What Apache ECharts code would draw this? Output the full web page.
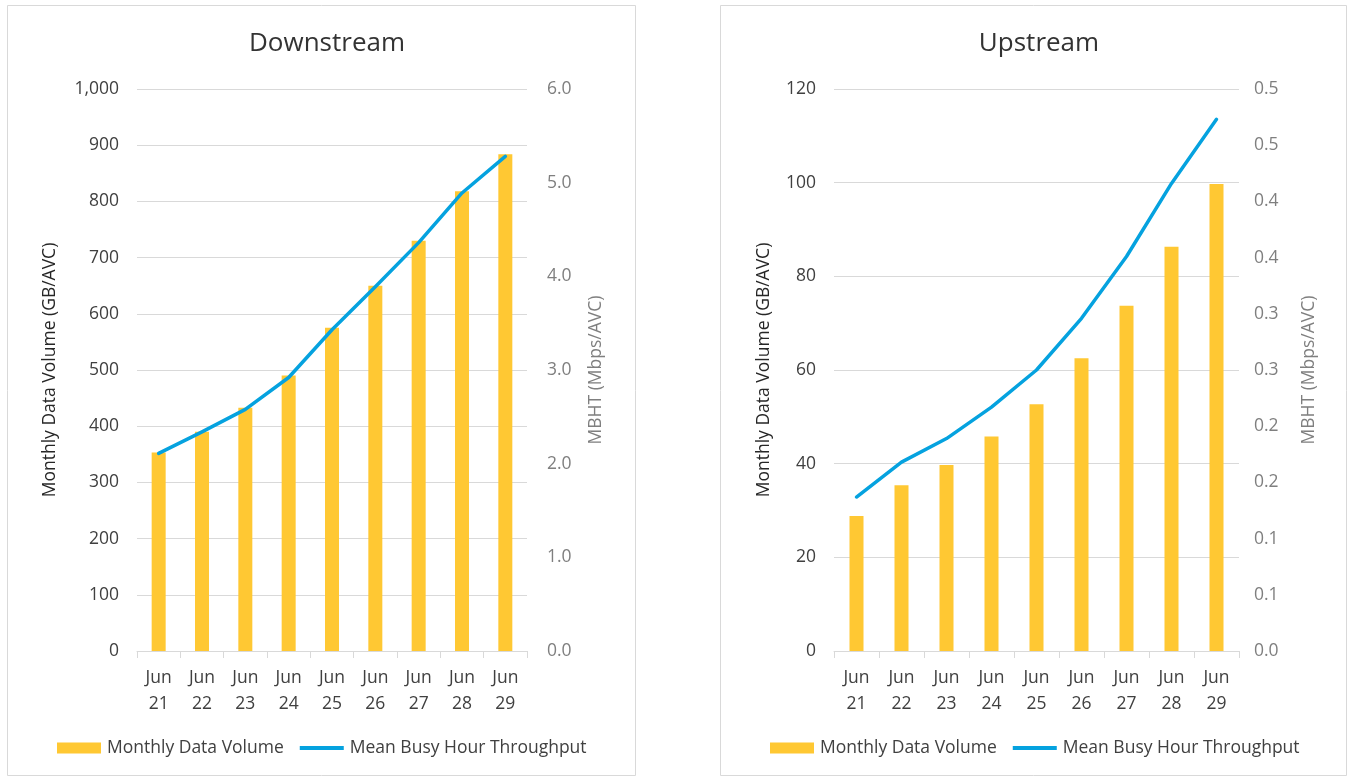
<!DOCTYPE html>
<html>
<head>
<meta charset="utf-8">
<title>Downstream / Upstream</title>
<script src="https://cdn.jsdelivr.net/npm/echarts@6/dist/echarts.min.js"></script>
<style>
  html, body { margin: 0; padding: 0; background: #ffffff; }
  #chart { width: 1348px; height: 779px; }
</style>
</head>
<body>
<div id="chart"></div>
<script>
// Months shown on both panels
const categories = ['Jun 21', 'Jun 22', 'Jun 23', 'Jun 24', 'Jun 25', 'Jun 26', 'Jun 27', 'Jun 28', 'Jun 29'];

// Downstream: monthly data volume (GB/AVC) and mean busy hour throughput (Mbps/AVC)
const downVolume = [353, 390, 433, 490, 575, 650, 730, 818, 884];
const downMbht = [2.11, 2.34, 2.58, 2.92, 3.43, 3.89, 4.36, 4.89, 5.28];

// Upstream: monthly data volume (GB/AVC) and mean busy hour throughput (Mbps/AVC)
const upVolume = [28.8, 35.4, 39.7, 45.8, 52.7, 62.5, 73.7, 86.3, 99.7];
const upMbht = [0.137, 0.168, 0.189, 0.217, 0.250, 0.296, 0.351, 0.416, 0.473];

const titles = ['Downstream', 'Upstream'];
const seriesNames = ['Monthly Data Volume', 'Mean Busy Hour Throughput'];
const leftAxisName = 'Monthly Data Volume (GB/AVC)';
const rightAxisName = 'MBHT (Mbps/AVC)';

const FONT = 'Open Sans';
const BAR_COLOR = '#FFC833';
const LINE_COLOR = '#05A2DF';
const GRID_COLOR = '#d9d9d9';

// legend key for the line: a 4px stroke centred in the 44x11 key box
const LINE_KEY = 'path://M0,0L0.01,0M0,3.5L44,3.5L44,7.5L0,7.5ZM0,11L0.01,11';

// one decimal, rounding halves upward
function oneDecimal(v) {
  return (Math.floor(v * 10 + 0.5 + 1e-6) / 10).toFixed(1);
}
function thousands(v) {
  return String(Math.round(v)).replace(/\B(?=(\d{3})+(?!\d))/g, ',');
}

const grids = [
  { left: 137, top: 89, width: 390, height: 562 },
  { left: 834, top: 89, width: 405, height: 562 }
];

function xAxisFor(i) {
  return {
    type: 'category',
    gridIndex: i,
    data: categories,
    axisLine: { lineStyle: { color: GRID_COLOR, width: 1 } },
    axisTick: { show: true, length: 7, lineStyle: { color: GRID_COLOR } },
    axisLabel: {
      color: '#404040', fontFamily: FONT, fontSize: 17.5, lineHeight: 26, margin: 14,
      formatter: v => v.replace(' ', '\n')
    }
  };
}

function leftY(i, max, interval, gap) {
  return {
    type: 'value', gridIndex: i, min: 0, max: max, interval: interval, position: 'left',
    name: leftAxisName, nameLocation: 'middle', nameRotate: 90, nameGap: gap,
    nameTextStyle: { color: '#262626', fontFamily: FONT, fontSize: 17.5 },
    axisLine: { show: false }, axisTick: { show: false },
    axisLabel: { color: '#404040', fontFamily: FONT, fontSize: 17.5, margin: 18, formatter: thousands },
    splitLine: { lineStyle: { color: GRID_COLOR, width: 1 } }
  };
}

function rightY(i, max, interval, gap, margin) {
  return {
    type: 'value', gridIndex: i, min: 0, max: max, interval: interval, position: 'right',
    name: rightAxisName, nameLocation: 'middle', nameRotate: 90, nameGap: gap,
    nameTextStyle: { color: '#7f7f7f', fontFamily: FONT, fontSize: 17.5 },
    axisLine: { show: false }, axisTick: { show: false },
    axisLabel: { color: '#7f7f7f', fontFamily: FONT, fontSize: 17.5, margin: margin, formatter: oneDecimal },
    splitLine: { show: false }
  };
}

function barSeries(xi, yi, data) {
  return {
    name: seriesNames[0], type: 'bar', xAxisIndex: xi, yAxisIndex: yi,
    data: data, barWidth: 14, itemStyle: { color: BAR_COLOR }, z: 2
  };
}
function lineSeries(xi, yi, data) {
  return {
    name: seriesNames[1], type: 'line', xAxisIndex: xi, yAxisIndex: yi,
    data: data, symbol: 'none', smooth: false,
    lineStyle: { color: LINE_COLOR, width: 3.5, cap: 'round', join: 'round' },
    itemStyle: { color: LINE_COLOR }, z: 3
  };
}

function legendAt(left) {
  return {
    left: left, top: 737, orient: 'horizontal', padding: 0,
    itemWidth: 44, itemHeight: 11, itemGap: 16,
    data: [
      { name: seriesNames[0], icon: 'rect', itemStyle: { color: BAR_COLOR } },
      { name: seriesNames[1], icon: LINE_KEY, itemStyle: { color: LINE_COLOR, borderWidth: 0 } }
    ],
    textStyle: { color: '#404040', fontFamily: FONT, fontSize: 17.5, lineHeight: 22, padding: [0, 0, 0, 1] }
  };
}

const option = {
  animation: false,
  backgroundColor: '#ffffff',
  title: [
    { text: titles[0], left: 322, top: 26, textAlign: 'center',
      textStyle: { color: '#333333', fontFamily: FONT, fontSize: 26, fontWeight: 'normal' } },
    { text: titles[1], left: 1034, top: 26, textAlign: 'center',
      textStyle: { color: '#333333', fontFamily: FONT, fontSize: 26, fontWeight: 'normal' } }
  ],
  graphic: [
    { type: 'rect', shape: { x: 7.5, y: 5.5, width: 628, height: 770 },
      style: { fill: 'none', stroke: GRID_COLOR, lineWidth: 1 }, silent: true },
    { type: 'rect', shape: { x: 720.5, y: 5.5, width: 626, height: 770 },
      style: { fill: 'none', stroke: GRID_COLOR, lineWidth: 1 }, silent: true }
  ],
  legend: [legendAt(57), legendAt(770)],
  grid: grids,
  xAxis: [xAxisFor(0), xAxisFor(1)],
  yAxis: [
    leftY(0, 1000, 100, 78),
    rightY(0, 6, 1, 60, 20),
    leftY(1, 120, 20, 61),
    rightY(1, 0.5, 0.05, 61, 15)
  ],
  series: [
    barSeries(0, 0, downVolume),
    lineSeries(0, 1, downMbht),
    barSeries(1, 2, upVolume),
    lineSeries(1, 3, upMbht)
  ]
};

const chart = echarts.init(document.getElementById('chart'), null, { renderer: 'canvas' });
chart.setOption(option);
</script>
</body>
</html>
